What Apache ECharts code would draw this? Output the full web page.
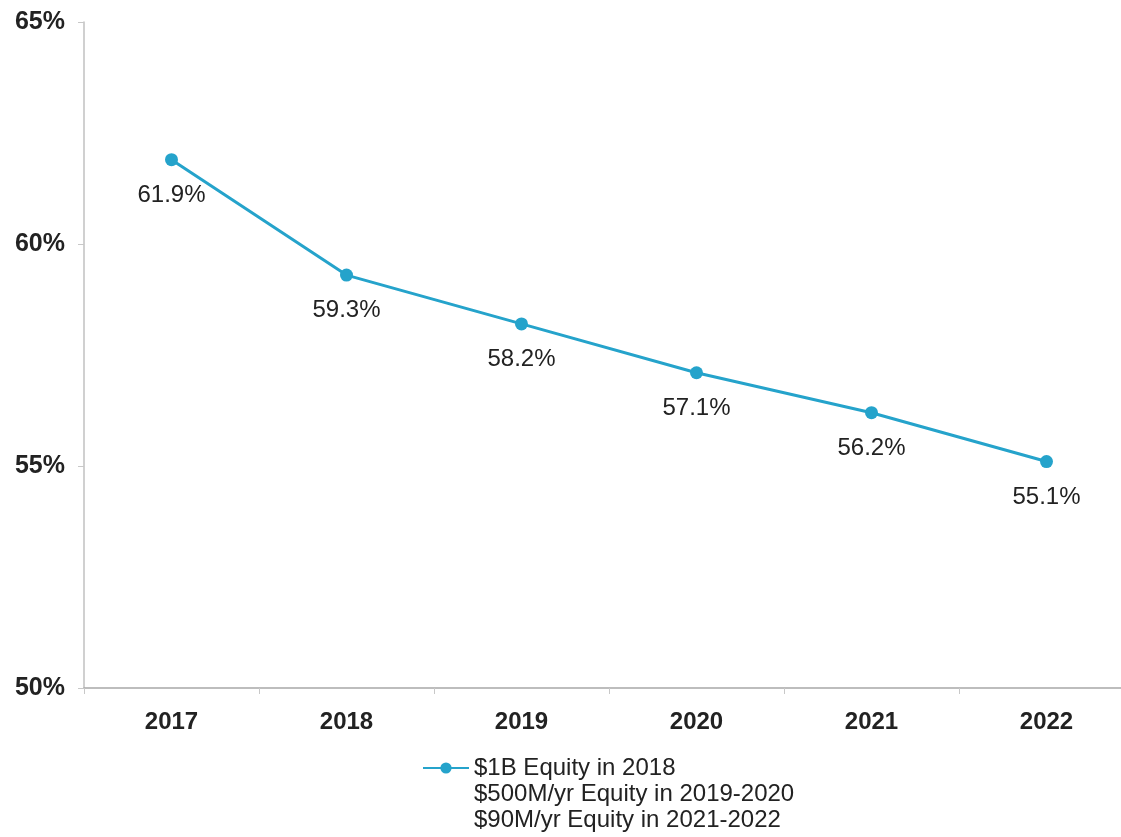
<!DOCTYPE html>
<html>
<head>
<meta charset="utf-8">
<script src="https://cdn.jsdelivr.net/npm/echarts@6/dist/echarts.min.js"></script>
<style>html,body{margin:0;padding:0;background:#fff;overflow:hidden;}#c{width:1140px;height:837px;}</style>
</head>
<body>
<div id="c"></div>
<script>
const categories = ['2017', '2018', '2019', '2020', '2021', '2022'];
const values = [61.9, 59.3, 58.2, 57.1, 56.2, 55.1];
const yTicks = [50, 55, 60, 65];
const seriesName = '$1B Equity in 2018\n$500M/yr Equity in 2019-2020\n$90M/yr Equity in 2021-2022';

const chart = echarts.init(document.getElementById('c'));
chart.setOption({
  animation: false,
  backgroundColor: '#ffffff',
  grid: { left: 84, top: 22, width: 1050, height: 666, containLabel: false },
  legend: {
    left: 422,
    top: 703,
    padding: 0,
    itemWidth: 46,
    itemHeight: 14,
    itemGap: 5,
    formatter: name => '\n\n' + name,
    textStyle: {
      fontFamily: 'Liberation Sans',
      fontSize: 24,
      lineHeight: 26,
      color: '#222'
    },
    data: [seriesName]
  },
  xAxis: {
    type: 'category',
    data: categories,
    boundaryGap: true,
    axisLine: { lineStyle: { color: '#a8a8a8', width: 1.5 } },
    axisTick: { show: true, length: 6, lineStyle: { color: '#c8c8c8' } },
    axisLabel: {
      margin: 22,
      fontFamily: 'Liberation Sans',
      fontWeight: 'bold',
      fontSize: 24,
      color: '#222'
    }
  },
  yAxis: {
    type: 'value',
    min: 50,
    max: 65,
    interval: 5,
    axisLine: { show: true, lineStyle: { color: '#c0c0c0', width: 1.5 } },
    axisTick: { show: true, length: 6, lineStyle: { color: '#c8c8c8' } },
    splitLine: { show: false },
    axisLabel: {
      margin: 19,
      fontFamily: 'Liberation Sans',
      fontWeight: 'bold',
      fontSize: 25,
      color: '#222',
      formatter: v => yTicks.includes(v) ? v + '%' : ''
    }
  },
  series: [{
    name: seriesName,
    type: 'line',
    data: values,
    symbol: 'circle',
    symbolSize: 13,
    lineStyle: { color: '#25a3cb', width: 3 },
    itemStyle: { color: '#25a3cb' },
    label: {
      show: true,
      position: 'bottom',
      distance: 17,
      fontFamily: 'Liberation Sans',
      fontSize: 24,
      color: '#222',
      formatter: p => p.value.toFixed(1) + '%'
    }
  }]
});
</script>
</body>
</html>
